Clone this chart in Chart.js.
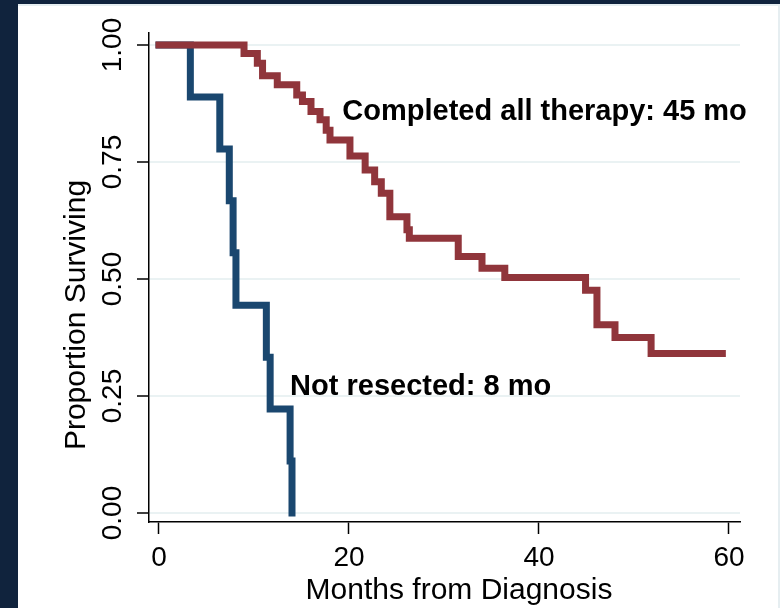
<!DOCTYPE html>
<html>
<head>
<meta charset="utf-8">
<title>Survival by treatment group</title>
<style>
  html, body { margin: 0; padding: 0; background: #10233d; }
  #wrap { position: relative; width: 780px; height: 608px; }
  canvas { display: block; }
</style>
<script src="https://cdn.jsdelivr.net/npm/chart.js@4/dist/chart.umd.min.js"></script>
</head>
<body>
<div id="wrap"><canvas id="km" width="780" height="608"></canvas></div>
<script>
// Kaplan–Meier estimates: months from diagnosis and proportion surviving after each event
const completedMonths   = [0, 8.95, 10.35, 10.9, 12.45, 14.5, 15.1, 16.0, 16.95, 17.6, 18.0, 20.1, 21.7, 22.7, 23.4, 24.3, 26.1, 26.35, 31.5, 34.0, 36.4, 44.9, 46.1, 48.0, 51.8, 59.3];
const completedSurvival = [1, 0.982, 0.961, 0.934, 0.915, 0.893, 0.879, 0.858, 0.840, 0.818, 0.797, 0.763, 0.733, 0.708, 0.683, 0.633, 0.605, 0.587, 0.548, 0.523, 0.503, 0.476, 0.402, 0.375, 0.341, 0.341];

const notResectedMonths   = [0, 3.3, 6.4, 7.4, 7.8, 8.1, 11.3, 11.7, 13.8, 14.0];
const notResectedSurvival = [1, 0.889, 0.778, 0.667, 0.556, 0.444, 0.333, 0.222, 0.111, 0];

const xTickValues = [0, 20, 40, 60];
const yTickValues = [0, 0.25, 0.5, 0.75, 1];

const groupNames = ['Completed all therapy: 45 mo', 'Not resected: 8 mo'];
const xTitle = 'Months from Diagnosis';
const yTitle = 'Proportion Surviving';

const FONT = "'Liberation Sans', Arial, Helvetica, sans-serif";
const NAVY = '#1a476f';
const MAROON = '#90353b';
const GRID = '#eaf2f3';

const toPoints = (xs, ys) => xs.map((x, i) => ({ x: x, y: ys[i] }));

// Where each group's median-survival note sits, in data units
const notePlacement = [
  { month: 19.3, surv: 0.84 },
  { month: 13.8, surv: 0.252 }
];

// Dark frame around the white graph region
const framePlugin = {
  id: 'frame',
  beforeDraw(chart) {
    const ctx = chart.ctx;
    ctx.save();
    ctx.fillStyle = '#10233d';
    ctx.fillRect(0, 0, chart.width, chart.height);
    ctx.fillStyle = '#ffffff';
    ctx.fillRect(18, 4, chart.width - 18, chart.height - 4);
    ctx.strokeStyle = '#e6eef1';
    ctx.lineWidth = 2;
    ctx.beginPath();
    ctx.moveTo(18, 5);
    ctx.lineTo(chart.width - 1, 5);
    ctx.lineTo(chart.width - 1, chart.height);
    ctx.stroke();
    ctx.restore();
  }
};

// Axis titles and the median notes for each curve
const textPlugin = {
  id: 'texts',
  afterDraw(chart) {
    const ctx = chart.ctx;
    const xs = chart.scales.x, ys = chart.scales.y;
    ctx.save();
    ctx.fillStyle = '#000';
    ctx.textBaseline = 'alphabetic';

    ctx.font = '30px ' + FONT;
    ctx.textAlign = 'center';
    ctx.fillText(xTitle, 459, 599);

    ctx.save();
    ctx.translate(85, 315);
    ctx.rotate(-Math.PI / 2);
    ctx.fillText(yTitle, 0, 0);
    ctx.restore();

    ctx.font = 'bold 29px ' + FONT;
    ctx.textAlign = 'left';
    groupNames.forEach((name, i) => {
      const p = notePlacement[i];
      ctx.fillText(name, xs.getPixelForValue(p.month), ys.getPixelForValue(p.surv));
    });
    ctx.restore();
  }
};

const lineStyle = {
  borderWidth: 7,
  borderCapStyle: 'square',
  borderJoinStyle: 'miter',
  pointRadius: 0,
  pointHoverRadius: 0,
  stepped: true,
  fill: false,
  tension: 0
};

new Chart(document.getElementById('km'), {
  type: 'line',
  data: {
    datasets: [
      Object.assign({ label: groupNames[0], data: toPoints(completedMonths, completedSurvival), borderColor: MAROON, backgroundColor: MAROON }, lineStyle),
      Object.assign({ label: groupNames[1], data: toPoints(notResectedMonths, notResectedSurvival), borderColor: NAVY, backgroundColor: NAVY }, lineStyle)
    ]
  },
  options: {
    responsive: false,
    devicePixelRatio: 1,
    animation: false,
    layout: { padding: { top: 33, right: 40, bottom: 0, left: 0 } },
    plugins: { legend: { display: false }, tooltip: { enabled: false } },
    scales: {
      x: {
        type: 'linear',
        min: -1.0526,
        max: 61.158,
        afterBuildTicks: s => { s.ticks = xTickValues.map(v => ({ value: v })); },
        afterFit: s => { s.height = 86; s.paddingLeft = 0; s.paddingRight = 0; },
        border: { display: true, color: '#000', width: 1.5 },
        grid: { drawOnChartArea: false, drawTicks: true, tickLength: 12, tickColor: '#000', tickWidth: 1.5 },
        ticks: { minRotation: 0, maxRotation: 0, padding: 7, color: '#000', font: { family: FONT, size: 28 } }
      },
      y: {
        type: 'linear',
        min: -0.0192,
        max: 1.0256,
        afterBuildTicks: s => { s.ticks = yTickValues.map(v => ({ value: v })); },
        afterFit: s => { s.width = 149; s.paddingTop = 0; s.paddingBottom = 0; },
        border: { display: true, color: '#000', width: 1.5 },
        grid: { color: GRID, lineWidth: 2, drawTicks: true, tickLength: 12, tickColor: '#000', tickWidth: 1.5 },
        ticks: {
          minRotation: 90, maxRotation: 90, crossAlign: 'center', padding: -4,
          color: '#000', font: { family: FONT, size: 28 },
          callback: v => Number(v).toFixed(2)
        }
      }
    }
  },
  plugins: [framePlugin, textPlugin]
});
</script>
</body>
</html>
